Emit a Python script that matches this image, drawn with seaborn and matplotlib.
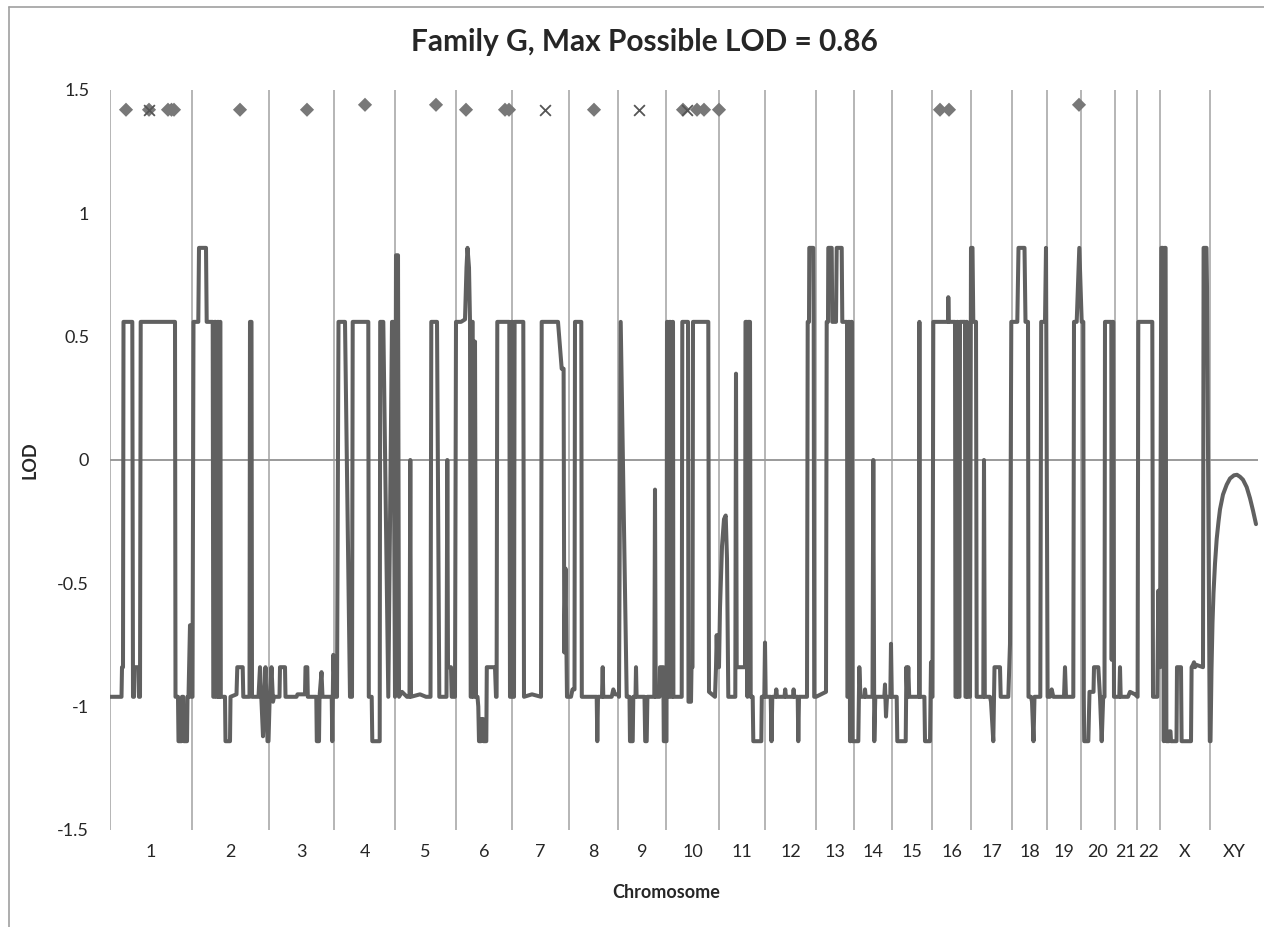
import matplotlib
matplotlib.use('Agg')
import matplotlib.pyplot as plt
from matplotlib.lines import Line2D
import seaborn as sns
import pandas as pd

# chromosome layout along the map axis (cumulative position, arbitrary units)
chrom_names = ['1', '2', '3', '4', '5', '6', '7', '8', '9', '10', '11', '12',
               '13', '14', '15', '16', '17', '18', '19', '20', '21', '22', 'X', 'XY']
chrom_bounds = [0, 82, 159, 224, 285, 346, 402, 459, 508, 556, 609, 655, 706,
                744, 782, 822, 861, 902, 937, 971, 1005, 1027, 1050, 1100, 1148]

# LOD trace: (position, LOD)
lod_trace = [
    # 1
    (0, -0.96), (11.5, -0.96), (12, -0.84), (13, -0.84), (13.5, 0.56), (22.3, 0.56), (23, -0.96),
    (24, -0.96), (24.5, -0.84), (28.5, -0.84), (29, -0.96), (30, -0.96), (30.7, 0.56), (65, 0.56),
    (65.5, -0.96), (68, -0.96), (68.5, -1.14), (71.5, -1.14), (72, -0.96), (73.3, -0.96),
    (73.8, -1.14), (77, -1.14), (77.5, -0.96), (78.5, -0.96), (80, -0.67), (81, -0.96),
    # 2
    (82.5, -0.96), (83.5, 0.56), (88.3, 0.56), (89, 0.86), (96, 0.86), (96.7, 0.56), (102.7, 0.56),
    (103.3, -0.96), (104.2, -0.96), (104.6, 0.56), (105.8, 0.56), (106.2, -0.96), (107.2, -0.96),
    (107.6, 0.56), (108.4, 0.56), (108.8, -0.96), (109.6, -0.96), (110, 0.56), (110.4, 0.56),
    (110.8, -0.96), (115, -0.96), (115.5, -1.14), (120, -1.14), (120.5, -0.96), (126.5, -0.95),
    (127.3, -0.84), (132.7, -0.84), (133.3, -0.96), (139.5, -0.96), (140, 0.56), (141.5, 0.56),
    (142, -0.96), (148.5, -0.96), (150, -0.84), (153, -1.12), (154.5, -0.96), (155.5, -0.84),
    (157.5, -1.14), (158.5, -1.14),
    # 3
    (159.5, -0.99), (161.5, -0.84), (163, -0.98), (164, -0.96), (169.5, -0.96), (170, -0.84),
    (175, -0.84), (175.5, -0.96), (186.5, -0.96), (187.5, -0.95), (195, -0.95), (195.5, -0.84),
    (197.3, -0.84), (197.8, -0.96), (206.3, -0.96), (206.8, -1.14), (209, -1.14), (209.5, -0.96),
    (211.5, -0.86), (212.5, -0.96), (221.7, -0.96), (222.3, -1.14), (223.3, -0.79), (225, -0.96),
    # 4
    (227, -0.96), (228.5, 0.56), (235, 0.56), (240, -0.96), (242, -0.96), (242.7, 0.56),
    (258.3, 0.56), (258.8, -0.96), (261.7, -0.96), (262.3, -1.14), (269.7, -1.14), (270.2, 0.56),
    (273.3, 0.56), (278.3, -0.96), (282, 0.56), (283.3, 0.56), (285, -0.96), (286, 0.83), (288, 0.83),
    # 5
    (289, -0.96), (292, -0.94), (297, -0.96), (299.5, -0.96), (300.3, 0.0), (301, -0.96),
    (310, -0.95), (316, -0.96), (320.5, -0.96), (321.3, 0.56), (327, 0.56), (329.3, -0.96),
    (336.5, -0.96), (337.3, 0.0), (338, -0.84), (341, -0.84), (341.7, -0.96), (345, -0.96), (346, 0.56),
    # 6
    (351, 0.56), (355, 0.57), (356.5, 0.78), (357.5, 0.86), (359, 0.78), (360, 0.56), (360.7, -0.96),
    (361.5, -0.96), (362, 0.56), (362.7, 0.56), (363.2, -0.96), (364, -0.96), (365, 0.48),
    (366, -0.96), (367.5, -0.96), (368.3, -1.0), (369, -1.14), (371, -1.14), (371.5, -1.05),
    (373, -1.05), (373.5, -1.14), (376.3, -1.14), (376.8, -0.84), (385, -0.84), (386, -0.96),
    (386.6, -0.96), (387.3, 0.56), (399.3, 0.56), (400, -0.96), (401, -0.96), (401.5, 0.56),
    (402.5, 0.56), (403, -0.96), (404, -0.96),
    # 7
    (404.6, 0.56), (413.3, 0.56), (414, -0.96), (422, -0.95), (431, -0.96), (431.7, 0.56),
    (448, 0.56), (451.7, 0.37), (453.6, 0.37), (454.3, -0.78), (455.5, -0.44), (457, -0.96),
    (461, -0.96),
    # 8
    (462.5, -0.93), (464.5, -0.93), (465, 0.56), (471.3, 0.56), (471.8, -0.96), (486.7, -0.96),
    (487.3, -1.14), (488, -0.96), (492, -0.96), (492.7, -0.84), (493.3, -0.96), (501.7, -0.96),
    (503.3, -0.93), (505, -0.95), (508, -0.95),
    # 9
    (509, -0.96), (510.7, 0.56), (516.7, -0.96), (519.5, -0.96), (520, -1.14), (522.7, -1.14),
    (523.3, -0.96), (525.5, -0.96), (526, -0.84), (526.6, -0.96), (534.5, -0.96), (535.2, -1.14),
    (536.7, -1.14), (537.4, -0.96), (544.3, -0.96), (545, -0.12), (545.7, -0.96), (549.5, -0.96),
    (550, -0.84), (553.3, -0.84), (553.8, -1.14), (556.5, -1.14),
    # 10
    (557, 0.56), (557.8, 0.56), (558.2, -0.96), (559, -0.96), (559.5, 0.56), (560.5, 0.56),
    (561, -0.96), (562, -0.96), (562.5, 0.56), (563, 0.56), (563.4, -0.96), (571.7, -0.96),
    (572.3, 0.56), (578, 0.56), (578.5, -0.98), (581, -0.98), (581.5, -0.84), (582.5, -0.84),
    (583, 0.56), (598.3, 0.56), (599, -0.94), (605, -0.96), (606, -0.84), (606.7, -0.71),
    (607.5, -0.84), (609, -0.84),
    # 11
    (610, -0.6), (612, -0.35), (614, -0.24), (615.7, -0.225), (617, -0.4), (618.3, -0.96),
    (625.3, -0.96), (626, 0.35), (626.7, -0.84), (635, -0.84), (635.5, 0.56), (637, 0.56),
    (637.5, -0.96), (638, 0.56), (640, 0.56), (640.7, -0.96), (642.7, -0.96), (643.3, -1.14),
    (651.3, -1.14), (651.8, -0.96), (654.3, -0.96), (655, -0.74),
    # 12
    (655.7, -0.96), (660.7, -0.96), (661.5, -1.14), (662.3, -0.96), (665.5, -0.96), (666.3, -0.93),
    (667, -0.96), (674.5, -0.96), (675.2, -0.93), (676, -0.96), (683, -0.96), (683.6, -0.93),
    (684.3, -0.96), (687.7, -0.96), (688.3, -1.14), (689, -0.96), (697, -0.96), (697.7, 0.56),
    (699, 0.56), (699.3, 0.86), (703.3, 0.86), (703.7, 0.56), (704.2, -0.96),
    # 13
    (706, -0.96), (716, -0.94), (716.7, 0.56), (718, 0.56), (718.3, 0.86), (721.7, 0.86),
    (722.3, 0.56), (726, 0.56), (726.7, 0.86), (731.7, 0.86), (732.3, 0.56), (737, 0.56),
    (737.4, -0.96), (738, -0.96), (738.4, 0.56), (739.5, 0.56), (740, -1.14), (740.6, -1.14),
    (741, 0.56), (742, 0.56), (742.5, -1.14),
    # 14
    (748.3, -1.14), (749.3, -0.84), (750.5, -0.96), (754.5, -0.96), (755, -0.93), (755.7, -0.96),
    (762.5, -0.96), (763.3, 0.0), (764.3, -1.14), (765.3, -0.96), (774.3, -0.96), (775, -0.91),
    (776, -1.04), (777, -0.96), (780.3, -0.96), (781, -0.745), (781.8, -0.96),
    # 15
    (786.7, -0.96), (787.3, -1.14), (795.7, -1.14), (796.4, -0.84), (797.3, -0.96), (798.3, -0.84),
    (799.2, -0.96), (809, -0.96), (809.4, 0.56), (809.8, -0.96), (814.4, -0.96), (815, -1.14),
    (820, -1.14), (821, -0.82), (821.7, -0.96), (822.5, -0.96), (823.3, 0.56),
    # 16
    (838, 0.56), (838.3, 0.66), (838.8, 0.56), (845, 0.56), (845.5, -0.96), (846.5, -0.96),
    (847, 0.56), (847.8, 0.56), (848.2, -0.96), (849.5, -0.96), (850, 0.56), (855, 0.56),
    (855.5, -0.96), (856, -0.96), (856.3, 0.56), (857, 0.56), (857.4, -0.96), (860, -0.96),
    (861, 0.86), (862.5, 0.86), (863.3, 0.56), (866, 0.56), (866.7, -0.96),
    # 17
    (873.3, -0.96), (874, 0.0), (874.8, -0.96), (880, -0.96), (881, -0.98), (883.3, -1.14),
    (884.5, -0.84), (890, -0.84), (890.7, -0.96), (898.3, -0.96), (900, -0.745), (901.3, 0.56),
    # 18
    (907.3, 0.56), (908.5, 0.86), (914.5, 0.86), (915.5, 0.56), (918, 0.56), (918.5, -0.96),
    (921, -0.96), (922, -0.98), (923.5, -1.14), (924.5, -0.96), (930.3, -0.96), (931.2, 0.56),
    (935, 0.56), (936, 0.86), (937.6, -0.96),
    # 19
    (940, -0.96), (941.7, -0.93), (943.3, -0.96), (954, -0.96), (955, -0.84), (956, -0.96),
    (963.3, -0.96), (964, 0.56), (966.7, 0.56), (969.3, 0.86), (971.7, 0.56),
    # 20
    (973.3, 0.56), (973.8, -0.96), (974.2, -1.14), (978.3, -1.14), (979.5, -0.94), (983.5, -0.94),
    (984, -0.84), (988.3, -0.84), (990, -0.96), (991.7, -1.14), (993.2, -0.96), (994.5, -0.96),
    (995, 0.56), (1001.3, 0.56), (1001.7, -0.81), (1002.2, 0.56), (1003.3, 0.56), (1004, -0.96),
    # 21
    (1009.3, -0.96), (1010, -0.84), (1010.7, -0.96), (1018, -0.96), (1020, -0.94), (1025, -0.95),
    (1027.6, -0.96),
    # 22
    (1028.3, 0.56), (1042.3, 0.56), (1043, -0.96), (1047.3, -0.96), (1048.3, -0.53), (1050, -0.84),
    # X
    (1051.3, 0.86), (1053, 0.86), (1053.8, -1.14), (1054.6, 0.86), (1055.6, 0.86), (1056.4, -1.14),
    (1059, -1.14), (1059.5, -1.10), (1060.5, -1.10), (1061, -1.14), (1066.5, -1.14), (1067, -0.84),
    (1071, -0.84), (1071.6, -1.14), (1081, -1.14), (1081.6, -0.84), (1083, -0.83), (1084, -0.82),
    (1085, -0.84), (1086, -0.83), (1093, -0.84), (1093.6, 0.86), (1096.5, 0.86), (1097, 0.70),
    (1099.8, -1.14),
    # XY
    (1100.5, -1.14), (1101.5, -0.85), (1102.5, -0.66), (1103.5, -0.54), (1105, -0.42),
    (1106.7, -0.32), (1108.5, -0.25), (1110, -0.20), (1113, -0.14), (1116.7, -0.10),
    (1120, -0.075), (1124, -0.062), (1127, -0.06), (1130, -0.068), (1133, -0.08),
    (1136.7, -0.11), (1140, -0.155), (1143, -0.205), (1146, -0.26),
]

# markers along the top of the chart
diamond_pos = [16, 39, 58, 61.5, 64, 130, 197, 255, 326, 356, 395, 399, 484, 573, 587, 594, 609, 830, 839, 969]
diamond_lod = [1.42, 1.42, 1.42, 1.42, 1.42, 1.42, 1.42, 1.44, 1.44, 1.42, 1.42, 1.42, 1.42, 1.42,
               1.42, 1.42, 1.42, 1.42, 1.42, 1.44]
cross_pos = [39, 435, 529, 577]
cross_lod = [1.42, 1.42, 1.42, 1.42]

y_ticks = [-1.5, -1, -0.5, 0, 0.5, 1, 1.5]
y_tick_labels = ['-1.5', '-1', '-0.5', '0', '0.5', '1', '1.5']

sns.set_style('white')
plt.rcParams['font.family'] = ['Lato', 'DejaVu Sans']

W, H = 1264, 927
fig = plt.figure(figsize=(W / 100, H / 100), dpi=100)
ax = fig.add_axes([110 / W, 1 - 830 / H, 1148 / W, 740 / H])

trace = pd.DataFrame(lod_trace, columns=['pos', 'lod'])

ax.vlines(chrom_bounds[:-1], -1.5, 1.5, color='#b5b5b5', lw=1.4, zorder=1)
ax.axhline(0, color='#9a9a9a', lw=1.4, zorder=1)
sns.lineplot(data=trace, x='pos', y='lod', estimator=None, sort=False, color='#606060',
             lw=2.9, solid_joinstyle='round', solid_capstyle='round', ax=ax, zorder=3)
sns.scatterplot(x=diamond_pos, y=diamond_lod, marker='D', s=52, color='#787878',
                edgecolor='none', ax=ax, zorder=4)
sns.scatterplot(x=cross_pos, y=cross_lod, marker='x', s=60, color='#555555',
                linewidth=1.3, ax=ax, zorder=5)

ax.set_xlim(chrom_bounds[0], chrom_bounds[-1])
ax.set_ylim(-1.5, 1.5)
for s in ax.spines.values():
    s.set_visible(False)

centers = [(a + b) / 2 for a, b in zip(chrom_bounds[:-1], chrom_bounds[1:])]
ax.set_xticks(centers)
ax.set_xticklabels(chrom_names, fontsize=13)
ax.set_yticks(y_ticks)
ax.set_yticklabels(y_tick_labels, fontsize=13)
ax.tick_params(axis='x', length=0, pad=10)
ax.tick_params(axis='y', length=0, pad=15)

ax.set_xlabel('Chromosome', fontsize=13, fontweight='bold')
ax.xaxis.set_label_coords((666 - 110) / 1148, (830 - 893) / 740)
ax.xaxis.label.set_va('center')
ax.set_ylabel('LOD', fontsize=13, fontweight='bold')
ax.yaxis.set_label_coords((30 - 110) / 1148, 0.5)
ax.yaxis.label.set_va('center')

fig.text(644 / W, 1 - 42 / H, 'Family G, Max Possible LOD = 0.86', fontsize=21.5,
         fontweight='bold', ha='center', va='center')

# chart area frame (cropped on the right and bottom)
fig.add_artist(Line2D([9 / W, 9 / W], [0, 1 - 6.5 / H], transform=fig.transFigure,
                      color='#a0a0a0', lw=1.2))
fig.add_artist(Line2D([9 / W, 1], [1 - 6.5 / H, 1 - 6.5 / H], transform=fig.transFigure,
                      color='#a0a0a0', lw=1.2))

fig.savefig('out.png', dpi=100)
